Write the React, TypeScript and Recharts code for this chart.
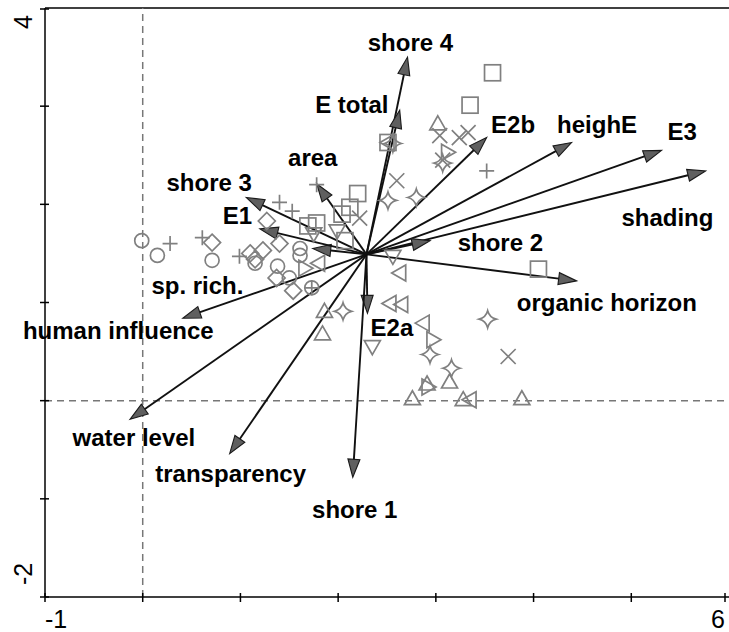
import React from "react";
import { ScatterChart, Scatter, XAxis, YAxis, ReferenceLine } from "recharts";

const xTicks = [-1, 0, 1, 2, 3, 4, 5, 6];
const yTicks = [-2, -1, 0, 1, 2, 3, 4];

// all arrows start from the same point
const origin = { x: 2.29, y: 1.49 };

const arrowNames = [
  "shore 4", "E total", "E2b", "heighE", "E3", "shading", "shore 2",
  "organic horizon", "E2a", "shore 1", "transparency", "water level",
  "human influence", "sp. rich.", "E1", "shore 3", "area",
];
const tipX = [2.71, 2.63, 3.52, 4.39, 5.31, 5.76, 2.94, 4.44, 2.3, 2.15, 0.89, -0.13, 0.41, 1.74, 1.2, 1.06, 1.78];
const tipY = [3.5, 2.96, 2.68, 2.63, 2.55, 2.34, 1.63, 1.22, 0.89, -0.78, -0.54, -0.19, 0.84, 1.55, 1.75, 2.07, 2.21];
const labelX = [2.74, 2.14, 3.79, 4.65, 5.52, 5.37, 3.66, 4.75, 2.55, 2.17, 0.9, -0.09, -0.25, 0.56, 0.97, 0.68, 1.74];
const labelY = [3.65, 3.02, 2.81, 2.81, 2.74, 1.87, 1.61, 1.0, 0.75, -1.11, -0.74, -0.38, 0.71, 1.17, 1.89, 2.22, 2.48];

// samples, one list per symbol
const circles = [[-0.01, 1.63], [0.15, 1.48], [0.71, 1.43], [1.15, 1.4], [1.38, 1.37], [1.61, 1.55], [1.61, 1.48], [1.5, 1.25], [1.73, 1.15]];
const pluses = [[0.28, 1.6], [0.61, 1.66], [0.99, 1.47], [1.78, 2.2], [1.4, 2.02], [1.53, 1.93], [3.52, 2.34], [1.73, 1.15]];
const diamonds = [[1.27, 1.83], [1.4, 1.6], [1.23, 1.53], [1.15, 1.44], [0.71, 1.61], [1.37, 1.25], [1.54, 1.12], [1.1, 1.5]];
const squares = [[3.58, 3.34], [3.35, 3.01], [2.51, 2.63], [2.2, 2.11], [2.12, 1.97], [2.04, 1.9], [1.78, 1.81], [1.69, 1.78], [2.07, 1.63], [4.05, 1.34]];
const trianglesUp = [[3.02, 2.82], [1.86, 0.91], [1.84, 0.68], [2.91, 0.17], [3.14, 0.19], [2.76, 0.02], [3.28, 0.01], [3.88, 0.02]];
const trianglesDown = [[2.35, 0.55], [1.99, 1.73], [2.56, 1.47], [1.75, 1.7]];
const trianglesLeft = [[2.63, 1.3], [2.53, 0.99], [2.65, 0.98], [2.87, 0.79], [3.35, 0.01], [2.51, 2.63], [1.8, 1.4]];
const trianglesRight = [[2.97, 0.62], [2.92, 0.14], [3.12, 2.53], [1.66, 1.35]];
const crosses = [[3.04, 2.7], [3.24, 2.68], [3.33, 2.73], [2.6, 2.24], [3.07, 2.45], [3.74, 0.45], [2.22, 1.86]];
const stars = [[2.51, 2.04], [2.8, 2.07], [2.05, 0.91], [2.94, 0.47], [3.16, 0.33], [3.53, 0.83], [3.07, 2.42], [2.56, 2.62]];

const GRAY = "#808080";
const FONT = "'Liberation Sans', Arial, sans-serif";
const toPts = (list: number[][]) => list.map(([x, y]) => ({ x, y }));

const symbol = (kind: string) => (props: any) => {
  const { cx, cy } = props;
  const s = { fill: "none", stroke: GRAY, strokeWidth: 1.7 };
  switch (kind) {
    case "circle":
      return <circle cx={cx} cy={cy} r={7} {...s} />;
    case "plus":
      return <path d={`M${cx - 7.5},${cy}H${cx + 7.5}M${cx},${cy - 7.5}V${cy + 7.5}`} {...s} />;
    case "cross":
      return <path d={`M${cx - 7.5},${cy - 7.5}L${cx + 7.5},${cy + 7.5}M${cx - 7.5},${cy + 7.5}L${cx + 7.5},${cy - 7.5}`} {...s} />;
    case "square":
      return <rect x={cx - 8} y={cy - 8} width={16} height={16} {...s} />;
    case "diamond":
      return <polygon points={`${cx},${cy - 8.5} ${cx + 8.5},${cy} ${cx},${cy + 8.5} ${cx - 8.5},${cy}`} {...s} />;
    case "up":
      return <polygon points={`${cx},${cy - 8} ${cx + 8},${cy + 6} ${cx - 8},${cy + 6}`} {...s} />;
    case "down":
      return <polygon points={`${cx},${cy + 8} ${cx + 8},${cy - 6} ${cx - 8},${cy - 6}`} {...s} />;
    case "left":
      return <polygon points={`${cx - 8},${cy} ${cx + 6},${cy - 8} ${cx + 6},${cy + 8}`} {...s} />;
    case "right":
      return <polygon points={`${cx + 8},${cy} ${cx - 6},${cy - 8} ${cx - 6},${cy + 8}`} {...s} />;
    default: {
      const r = 8.5, k = 1.8;
      return (
        <path
          d={`M${cx},${cy - r}Q${cx + k},${cy - k} ${cx + r},${cy}Q${cx + k},${cy + k} ${cx},${cy + r}Q${cx - k},${cy + k} ${cx - r},${cy}Q${cx - k},${cy - k} ${cx},${cy - r}Z`}
          {...s}
        />
      );
    }
  }
};

const Arrow = (props: any) => {
  const { x1, y1, x2, y2 } = props;
  const dx = x2 - x1;
  const dy = y2 - y1;
  const len = Math.hypot(dx, dy) || 1;
  const ux = dx / len;
  const uy = dy / len;
  const hl = 18;
  const hw = 6;
  const bx = x2 - ux * hl;
  const by = y2 - uy * hl;
  return (
    <g>
      <line x1={x1} y1={y1} x2={bx + ux * 2} y2={by + uy * 2} stroke="#111" strokeWidth={1.9} />
      <polygon
        points={`${x2},${y2} ${bx - uy * hw},${by + ux * hw} ${bx + uy * hw},${by - ux * hw}`}
        fill="#5f5f5f"
        stroke="#1a1a1a"
        strokeWidth={1.1}
      />
    </g>
  );
};

const Label = (props: any) => {
  const { cx, cy, payload } = props;
  return (
    <text
      x={cx}
      y={cy}
      textAnchor="middle"
      dominantBaseline="central"
      fontFamily={FONT}
      fontWeight="bold"
      fontSize={24}
      fill="#000"
    >
      {payload.name}
    </text>
  );
};

const XTick = (props: any) => {
  const { x, y, payload } = props;
  const v = payload.value;
  return (
    <g>
      <line x1={x} y1={y - 4} x2={x} y2={y + 5} stroke="#000" strokeWidth={1.5} />
      {(v === -1 || v === 6) && (
        <text
          x={x}
          y={y + 31}
          textAnchor={v === -1 ? "start" : "end"}
          fontFamily={FONT}
          fontSize={25}
          fill="#000"
        >
          {v}
        </text>
      )}
    </g>
  );
};

const YTick = (props: any) => {
  const { x, y, payload } = props;
  const v = payload.value;
  const tx = x - 13;
  const ty = v === 4 ? y + 6 : y - 12;
  return (
    <g>
      <line x1={x - 5} y1={y} x2={x + 4} y2={y} stroke="#000" strokeWidth={1.5} />
      {(v === 4 || v === -2) && (
        <text
          x={tx}
          y={ty}
          transform={`rotate(-90 ${tx} ${ty})`}
          textAnchor={v === 4 ? "end" : "start"}
          fontFamily={FONT}
          fontSize={25}
          fill="#000"
        >
          {v}
        </text>
      )}
    </g>
  );
};

const series = [
  { kind: "circle", data: circles },
  { kind: "plus", data: pluses },
  { kind: "diamond", data: diamonds },
  { kind: "square", data: squares },
  { kind: "up", data: trianglesUp },
  { kind: "down", data: trianglesDown },
  { kind: "left", data: trianglesLeft },
  { kind: "right", data: trianglesRight },
  { kind: "cross", data: crosses },
  { kind: "star", data: stars },
];

export default function App() {
  const labels = arrowNames.map((name, i) => ({ name, x: labelX[i], y: labelY[i] }));
  return (
    <div style={{ position: "absolute", left: 0, top: 0, background: "#fff" }}>
      <ScatterChart width={729} height={632} margin={{ top: 8, right: 0, bottom: 0, left: 0 }}>
        <XAxis
          type="number"
          dataKey="x"
          domain={[-1, 6]}
          ticks={xTicks}
          height={35}
          tickSize={0}
          tickMargin={0}
          tickLine={false}
          tick={<XTick />}
          axisLine={{ stroke: "#000", strokeWidth: 1.5 }}
        />
        <YAxis
          type="number"
          dataKey="y"
          domain={[-2, 4]}
          ticks={yTicks}
          width={45}
          tickSize={0}
          tickMargin={0}
          tickLine={false}
          tick={<YTick />}
          axisLine={{ stroke: "#000", strokeWidth: 1.5 }}
        />
        <ReferenceLine y={4} stroke="#000" strokeWidth={1.5} />
        <ReferenceLine x={0} stroke="#777" strokeWidth={1.5} strokeDasharray="7 5" />
        <ReferenceLine y={0} stroke="#777" strokeWidth={1.5} strokeDasharray="7 5" />
        {series.map((s) => (
          <Scatter
            key={s.kind}
            data={toPts(s.data)}
            shape={symbol(s.kind)}
            isAnimationActive={false}
          />
        ))}
        {arrowNames.map((name, i) => (
          <ReferenceLine
            key={name}
            segment={[origin, { x: tipX[i], y: tipY[i] }]}
            shape={<Arrow />}
          />
        ))}
        <Scatter data={labels} shape={<Label />} isAnimationActive={false} />
      </ScatterChart>
    </div>
  );
}
